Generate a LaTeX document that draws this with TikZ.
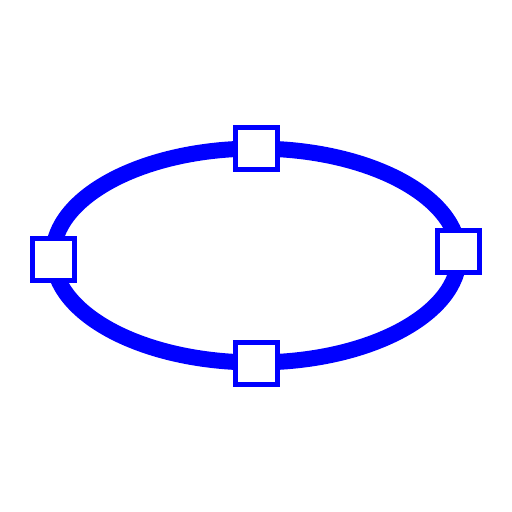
\documentclass[tikz,border=0pt]{standalone}
\begin{document}
\begin{tikzpicture}[x=1pt,y=-1pt,
  ring/.style={draw=blue,line width=16pt},
  handle/.style={draw=blue,fill=white,line width=5pt,minimum size=42pt,inner sep=0pt,rectangle}]
\useasboundingbox (0,0) rectangle (512,512);
\draw[ring] (256,255.5) ellipse [x radius=203, y radius=107];
\node[handle] (l) at (53.5,259.5) {};
\node[handle] (t) at (256.3,148.3) {};
\node[handle] (r) at (458,251) {};
\node[handle] (b) at (256.3,363.3) {};
\end{tikzpicture}
\end{document}
